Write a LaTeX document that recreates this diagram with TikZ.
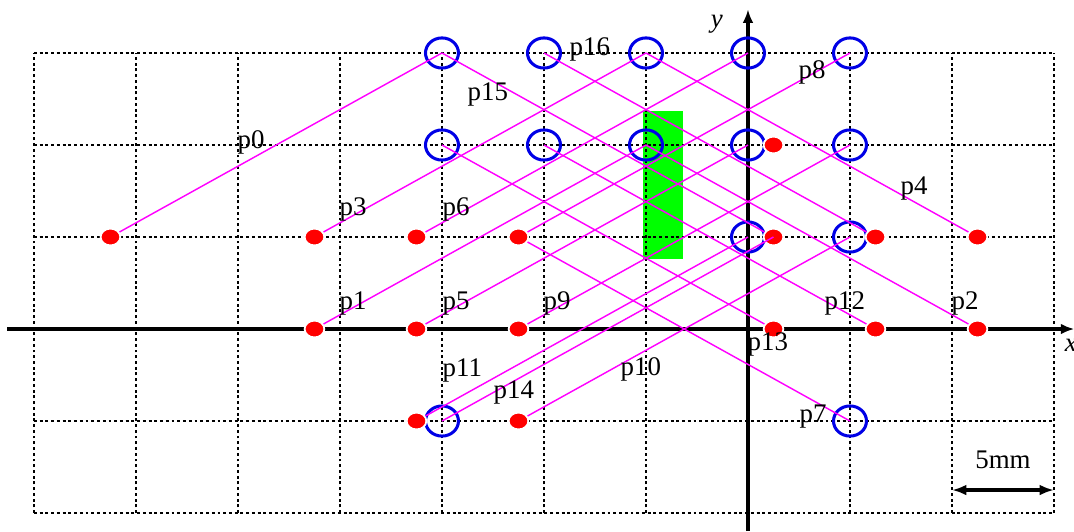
\documentclass[tikz,border=0pt]{standalone}
\usepackage{fontspec}
\setmainfont{Liberation Serif}
\usetikzlibrary{arrows.meta, shapes.geometric}
\definecolor{raymag}{RGB}{255, 0, 255}
\definecolor{ringblue}{RGB}{0, 0, 230}
\definecolor{dotred}{RGB}{255, 0, 0}
\definecolor{areagreen}{RGB}{0, 255, 0}
\tikzset{
  ring/.style={draw=ringblue, ellipse, line width=0.85pt, minimum width=9.2pt, minimum height=8.4pt, inner sep=0pt},
  dot/.style={fill=dotred, draw=white, ellipse, line width=0.5pt, minimum width=5.5pt, minimum height=4.7pt, inner sep=0pt},
  ray/.style={draw=raymag, line width=0.4pt},
  gridline/.style={line width=0.45pt, dash pattern=on 0.8pt off 0.8pt},
  lbl/.style={anchor=base west, inner sep=0pt, font=\fontsize{7.5}{9}\selectfont},
}
\begin{document}
\begin{tikzpicture}[x=1cm, y=0.902cm]
  \useasboundingbox (-7.333,-2.196) rectangle (3.196,3.576);

  % Green area
  \fill[areagreen] (-1.026,0.758) rectangle (-0.640,2.37);

  % Grid and axes
  \draw[gridline] (-7,-2) grid[step=1] (3,3);
  \draw[line width=1pt, -{Latex[length=3.8pt, width=3pt]}] (-7.26,0) -- (3.2,0);
  \draw[line width=1pt, -{Latex[length=3.8pt, width=3pt]}] (0,-2.196) -- (0,3.475);
  \node[lbl, font=\fontsize{7.5}{9}\selectfont\itshape] (xlab) at (3.1,-0.24) {x};
  \node[lbl, font=\fontsize{7.5}{9}\selectfont\itshape] (ylab) at (-0.37,3.28) {y};

  % Circles
  \node[ring] (r3a) at (-3,3) {};
  \node[ring] (r3b) at (-2,3) {};
  \node[ring] (r3c) at (-1,3) {};
  \node[ring] (r3d) at (0,3) {};
  \node[ring] (r3e) at (1,3) {};
  \node[ring] (r2a) at (-3,2) {};
  \node[ring] (r2b) at (-2,2) {};
  \node[ring] (r2c) at (-1,2) {};
  \node[ring] (r2d) at (0,2) {};
  \node[ring] (r2e) at (1,2) {};
  \node[ring] (r1d) at (0,1) {};
  \node[ring] (r1e) at (1,1) {};
  \node[ring] (rma) at (-3,-1) {};
  \node[ring] (rme) at (1,-1) {};

  % Dots
  \node[dot] (d1a) at (-6.25,1) {};
  \node[dot] (d1b) at (-4.25,1) {};
  \node[dot] (d1c) at (-3.25,1) {};
  \node[dot] (d1d) at (-2.25,1) {};
  \node[dot] (d1e) at (0.25,1) {};
  \node[dot] (d1f) at (1.25,1) {};
  \node[dot] (d1g) at (2.25,1) {};
  \node[dot] (d2e) at (0.25,2) {};
  \node[dot] (d0b) at (-4.25,0) {};
  \node[dot] (d0c) at (-3.25,0) {};
  \node[dot] (d0d) at (-2.25,0) {};
  \node[dot] (d0e) at (0.25,0) {};
  \node[dot] (d0f) at (1.25,0) {};
  \node[dot] (d0g) at (2.25,0) {};
  \node[dot] (dmc) at (-3.25,-1) {};
  \node[dot] (dmd) at (-2.25,-1) {};

  % Paths
  \draw[ray] (d1a) -- (r3a.center);
  \draw[ray] (d1b) -- (r3c.center);
  \draw[ray] (d1c) -- (r3d.center);
  \draw[ray] (d1d) -- (r3e.center);
  \draw[ray] (d0b) -- (r2c.center);
  \draw[ray] (d0c) -- (r2d.center);
  \draw[ray] (d0d) -- (r2e.center);
  \draw[ray] (dmc) -- (r1d.center);
  \draw[ray] (dmd) -- (r1e.center);
  \draw[ray] (rma.center) -- (d1e.center);
  \draw[ray] (r3a.center) -- (d1e);
  \draw[ray] (r3b.center) -- (d1f);
  \draw[ray] (r3c.center) -- (d1g);
  \draw[ray] (r2a.center) -- (d0e);
  \draw[ray] (r2b.center) -- (d0f);
  \draw[ray] (r2c.center) -- (d0g);
  \draw[ray] (d1d) -- (rme.center);

  % Labels
  \node[lbl] (lp0) at (-5.01,1.957) {p0};
  \node[lbl] (lp1) at (-4.01,0.217) {p1};
  \node[lbl] (lp2) at (1.99,0.217) {p2};
  \node[lbl] (lp3) at (-4.01,1.239) {p3};
  \node[lbl] (lp4) at (1.49,1.457) {p4};
  \node[lbl] (lp5) at (-3.0,0.217) {p5};
  \node[lbl] (lp6) at (-3.0,1.239) {p6};
  \node[lbl] (lp7) at (0.5,-1.02) {p7};
  \node[lbl] (lp8) at (0.49,2.728) {p8};
  \node[lbl] (lp9) at (-2.01,0.217) {p9};
  \node[lbl] (lp10) at (-1.255,-0.5) {p10};
  \node[lbl] (lp11) at (-3.0,-0.511) {p11};
  \node[lbl] (lp12) at (0.745,0.214) {p12};
  \node[lbl] (lp13) at (-0.01,-0.236) {p13};
  \node[lbl] (lp14) at (-2.5,-0.75) {p14};
  \node[lbl] (lp15) at (-2.755,2.489) {p15};
  \node[lbl] (lp16) at (-1.755,2.978) {p16};

  % Scale bar
  \coordinate (sbl) at (2,-1.75);
  \coordinate (sbr) at (3,-1.75);
  \draw[line width=1pt, {Latex[length=4pt, width=3pt]}-{Latex[length=4pt, width=3pt]}] (sbl) -- (sbr);
  \node[font=\fontsize{7.5}{9}\selectfont, inner sep=0pt] (sbtext) at (2.5,-1.42) {5mm};
\end{tikzpicture}
\end{document}
